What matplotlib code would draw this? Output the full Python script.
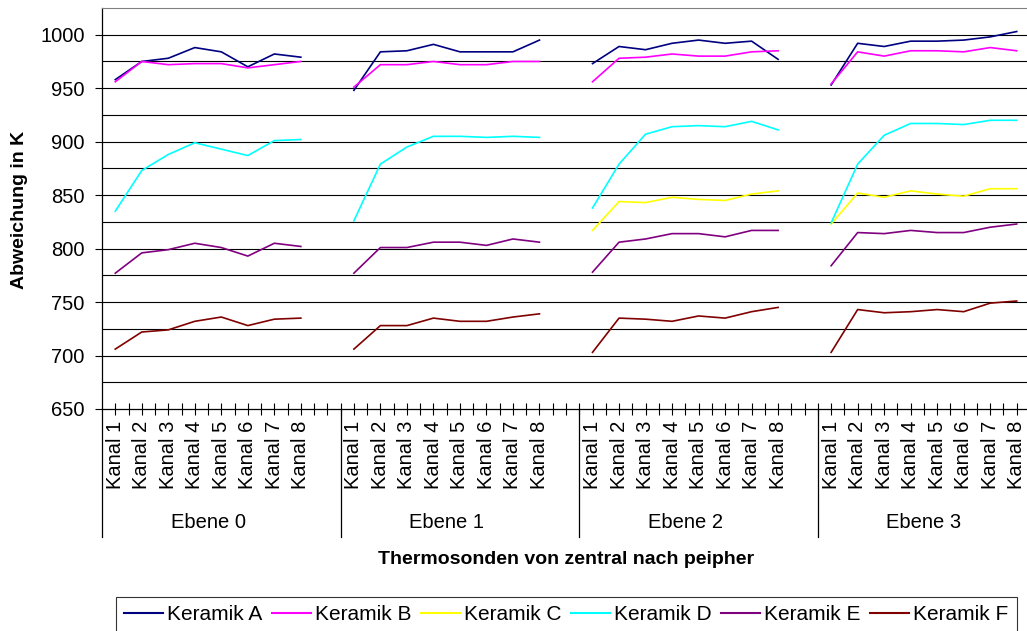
import numpy as np
import matplotlib
matplotlib.use('Agg')
import matplotlib.pyplot as plt
from matplotlib.lines import Line2D

plt.rcParams['font.family'] = ['Liberation Sans', 'DejaVu Sans']

ebenen = ['Ebene 0', 'Ebene 1', 'Ebene 2', 'Ebene 3']
kanaele = ['Kanal %d' % i for i in range(1, 9)]
series_names = ['Keramik A', 'Keramik B', 'Keramik C', 'Keramik D', 'Keramik E', 'Keramik F']
series_colors = ['#000080', '#FF00FF', '#FFFF00', '#00FFFF', '#800080', '#800000']

# values per Ebene (None = no measurement)
keramik_a = [[958, 975, 978, 988, 984, 970, 982, 979],
             [948, 984, 985, 991, 984, 984, 984, 995],
             [973, 989, 986, 992, 995, 992, 994, 977],
             [953, 992, 989, 994, 994, 995, 998, 1003]]
keramik_b = [[956, 975, 972, 973, 973, 969, 972, 975],
             [951, 972, 972, 975, 972, 972, 975, 975],
             [956, 978, 979, 982, 980, 980, 984, 985],
             [954, 984, 980, 985, 985, 984, 988, 985]]
keramik_c = [None,
             None,
             [817, 844, 843, 848, 846, 845, 851, 854],
             [823, 852, 848, 854, 851, 849, 856, 856]]
keramik_d = [[835, 873, 888, 899, 893, 887, 901, 902],
             [826, 879, 895, 905, 905, 904, 905, 904],
             [838, 879, 907, 914, 915, 914, 919, 911],
             [824, 879, 906, 917, 917, 916, 920, 920]]
keramik_e = [[777, 796, 799, 805, 801, 793, 805, 802],
             [777, 801, 801, 806, 806, 803, 809, 806],
             [778, 806, 809, 814, 814, 811, 817, 817],
             [784, 815, 814, 817, 815, 815, 820, 823]]
keramik_f = [[706, 722, 724, 732, 736, 728, 734, 735],
             [706, 728, 728, 735, 732, 732, 736, 739],
             [703, 735, 734, 732, 737, 735, 741, 745],
             [703, 743, 740, 741, 743, 741, 749, 751]]
all_series = [keramik_a, keramik_b, keramik_c, keramik_d, keramik_e, keramik_f]


def build_row(groups):
    # 8 Kanaele per Ebene, one empty category between the Ebenen
    row = []
    for i, g in enumerate(groups):
        row += [np.nan] * 8 if g is None else list(g)
        if i < len(groups) - 1:
            row.append(np.nan)
    return np.array(row, dtype=float)


n_cat = 9 * len(ebenen) - 1
x = np.arange(n_cat)

fig = plt.figure(figsize=(10.27, 6.31), dpi=100)
ax = fig.add_axes([102 / 1027, 1 - 409 / 631, 928 / 1027, 401 / 631])

for groups, name, color in zip(all_series, series_names, series_colors):
    ax.plot(x, build_row(groups), color=color, lw=1.2, label=name, zorder=3)

ax.set_xlim(-0.5, n_cat - 0.5)
ax.set_ylim(650, 1025)
ax.set_yticks(np.arange(650, 1001, 50))
for yv in np.arange(675, 1001, 25):
    ax.axhline(yv, color='black', lw=0.8, zorder=1)
ax.tick_params(axis='y', which='major', direction='out', length=5, width=0.8,
               labelsize=14.5, pad=7.5)

labels = []
for i in range(n_cat):
    labels.append('' if i % 9 == 8 else kanaele[i % 9])
ax.set_xticks(x)
ax.set_xticklabels(labels, rotation=90, va='top', ha='center')
ax.set_xticks(x + 0.5, minor=True)
ax.tick_params(axis='x', which='both', direction='inout', length=9, width=0.8)
ax.tick_params(axis='x', which='major', labelsize=14.5, pad=4)

ax.spines['top'].set_color('#808080')
ax.spines['right'].set_visible(False)
ax.spines['left'].set_linewidth(0.9)
ax.spines['bottom'].set_linewidth(0.9)

# group separators and Ebene labels below the axis
trans = ax.get_xaxis_transform()
line_bottom = -(537 - 409) / 401
for b in [-0.5, 8.5, 17.5, 26.5]:
    ax.add_line(Line2D([b, b], [0, line_bottom], transform=trans, color='black',
                       lw=0.9, clip_on=False))
for i, name in enumerate(ebenen):
    ax.text(i * 9 + 3.5, -(522 - 409) / 401, name, transform=trans, ha='center',
            va='center', fontsize=14.5)

fig.text(19.5 / 1027, 1 - 210 / 631, 'Abweichung in K', rotation=90, ha='center',
         va='center', fontsize=14, fontweight='bold')
fig.text(566 / 1027, 1 - 560 / 631, 'Thermosonden von zentral nach peipher',
         ha='center', va='center', fontsize=14, fontweight='bold')

leg = fig.legend(loc='upper left', bbox_to_anchor=(116 / 1027, 1 - 597 / 631), ncol=6,
                 fontsize=15, frameon=True, fancybox=False, borderaxespad=0,
                 handlelength=1.85, handletextpad=0.22, columnspacing=0.45, borderpad=0.4)
leg.get_frame().set_edgecolor('black')
leg.get_frame().set_linewidth(0.8)
for h in leg.get_lines():
    h.set_linewidth(1.5)

fig.savefig('out.png', dpi=100)
